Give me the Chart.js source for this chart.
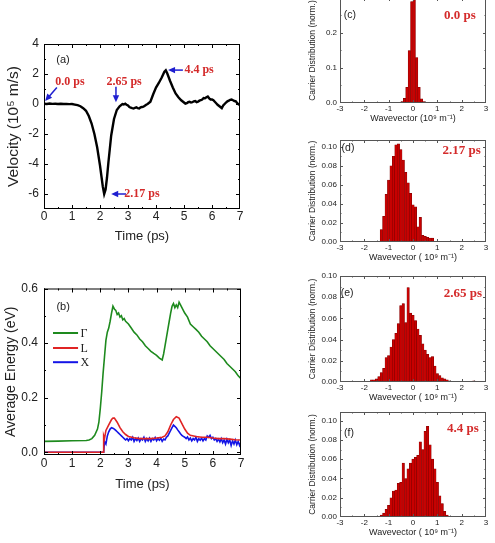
<!DOCTYPE html>
<html lang="en">
<head>
<meta charset="UTF-8">
<title>Drift velocity, energy and carrier distribution</title>
<script src="https://cdn.jsdelivr.net/npm/chart.js@4/dist/chart.umd.min.js"></script>
<style>
  html, body { margin: 0; padding: 0; background: #fff; }
  body { width: 495px; height: 543px; position: relative; overflow: hidden; }
  canvas { position: absolute; }
</style>
</head>
<body>
<canvas id="velo" width="260" height="214" style="left:0;top:30px"></canvas>
<canvas id="energy" width="260" height="212" style="left:0;top:280px"></canvas>
<canvas id="histC" width="195" height="126" style="left:300px;top:-2px"></canvas>
<canvas id="histD" width="195" height="129" style="left:300px;top:134px"></canvas>
<canvas id="histE" width="195" height="133" style="left:300px;top:270px"></canvas>
<canvas id="histF" width="195" height="132" style="left:300px;top:406px"></canvas>
<script>
// ---- data ----
// (a) drift velocity, [time ps, 10^5 m/s]
const velocity = [
  [0.0, 0.02], [0.1, 0.0], [0.2, 0.03], [0.3, 0.01], [0.4, 0.02], [0.5, 0.0], [0.6, 0.02],
  [0.7, 0.0], [0.8, 0.01], [0.9, -0.01], [1.0, 0.0], [1.1, -0.04], [1.2, -0.08], [1.3, -0.15],
  [1.4, -0.28], [1.5, -0.45], [1.6, -0.8], [1.7, -1.3], [1.8, -2.0], [1.9, -2.9], [2.0, -4.1],
  [2.05, -4.8], [2.1, -5.5], [2.15, -6.0], [2.2, -5.7], [2.25, -4.9], [2.3, -3.9], [2.35, -3.0],
  [2.4, -2.1], [2.5, -1.0], [2.6, -0.4], [2.7, -0.15], [2.8, 0.0], [2.85, -0.03], [2.9, 0.02],
  [2.95, -0.05], [3.0, -0.1], [3.05, -0.2], [3.1, -0.25], [3.15, -0.28], [3.2, -0.3], [3.25, -0.25],
  [3.3, -0.22], [3.35, -0.28], [3.4, -0.3], [3.45, -0.22], [3.5, -0.2], [3.55, -0.18], [3.6, -0.12],
  [3.65, -0.05], [3.7, 0.0], [3.8, 0.15], [3.9, 0.65], [4.0, 1.1], [4.1, 1.4], [4.2, 1.75],
  [4.3, 2.15], [4.35, 2.25], [4.4, 2.05], [4.5, 1.55], [4.6, 1.1], [4.7, 0.7], [4.8, 0.45],
  [4.9, 0.25], [5.0, 0.1], [5.05, 0.02], [5.1, 0.05], [5.15, 0.12], [5.2, 0.15], [5.25, 0.1],
  [5.3, 0.12], [5.35, 0.18], [5.4, 0.2], [5.45, 0.12], [5.5, 0.15], [5.55, 0.22], [5.6, 0.25],
  [5.65, 0.3], [5.7, 0.4], [5.75, 0.38], [5.8, 0.45], [5.85, 0.5], [5.9, 0.38], [5.95, 0.3],
  [6.0, 0.3], [6.05, 0.25], [6.1, 0.15], [6.15, 0.05], [6.2, -0.05], [6.3, -0.2], [6.35, -0.28],
  [6.4, -0.1], [6.45, 0.0], [6.5, 0.1], [6.55, 0.18], [6.6, 0.22], [6.65, 0.28], [6.7, 0.3],
  [6.75, 0.25], [6.8, 0.2], [6.85, 0.18], [6.9, 0.05], [6.95, -0.02], [7.0, -0.05]
];

// (b) average energy per valley, [time ps, eV]
const energyGamma = [
  [0.0, 0.040], [0.5, 0.041], [1.0, 0.042], [1.5, 0.043], [1.6, 0.045], [1.7, 0.05], [1.8, 0.062],
  [1.9, 0.085], [1.95, 0.11], [2.0, 0.16], [2.05, 0.22], [2.1, 0.29], [2.15, 0.35], [2.2, 0.41],
  [2.25, 0.44], [2.3, 0.455], [2.35, 0.48], [2.4, 0.51], [2.45, 0.535], [2.5, 0.525], [2.55, 0.52],
  [2.6, 0.505], [2.65, 0.51], [2.7, 0.495], [2.75, 0.5], [2.8, 0.485], [2.85, 0.49], [2.9, 0.48],
  [3.0, 0.47], [3.1, 0.455], [3.2, 0.44], [3.3, 0.43], [3.4, 0.415], [3.5, 0.405], [3.6, 0.39],
  [3.7, 0.38], [3.8, 0.37], [3.9, 0.362], [4.0, 0.355], [4.1, 0.345], [4.2, 0.338], [4.25, 0.36],
  [4.3, 0.39], [4.35, 0.42], [4.4, 0.45], [4.45, 0.48], [4.5, 0.51], [4.55, 0.535], [4.6, 0.545],
  [4.65, 0.53], [4.7, 0.54], [4.75, 0.53], [4.8, 0.55], [4.85, 0.54], [4.9, 0.53], [5.0, 0.51],
  [5.1, 0.495], [5.2, 0.47], [5.3, 0.46], [5.4, 0.45], [5.5, 0.44], [5.6, 0.425], [5.7, 0.415],
  [5.8, 0.405], [5.9, 0.39], [6.0, 0.38], [6.1, 0.37], [6.2, 0.36], [6.3, 0.35], [6.4, 0.34],
  [6.5, 0.325], [6.6, 0.315], [6.7, 0.305], [6.8, 0.295], [6.9, 0.28], [7.0, 0.27]
];
const energyL = [
  [0.0, 0.0], [2.1, 0.0], [2.12, 0.06], [2.15, 0.05], [2.2, 0.08], [2.3, 0.1], [2.4, 0.12],
  [2.45, 0.125], [2.5, 0.125], [2.6, 0.11], [2.7, 0.09], [2.8, 0.075], [2.9, 0.065], [3.0, 0.058],
  [3.2, 0.053], [3.4, 0.05], [3.6, 0.05], [3.8, 0.05], [4.0, 0.052], [4.2, 0.055], [4.3, 0.06],
  [4.4, 0.075], [4.5, 0.1], [4.6, 0.12], [4.7, 0.13], [4.8, 0.125], [4.9, 0.105], [5.0, 0.085],
  [5.1, 0.07], [5.2, 0.062], [5.4, 0.058], [5.6, 0.055], [5.8, 0.055], [6.0, 0.052], [6.2, 0.05],
  [6.4, 0.05], [6.6, 0.048], [6.8, 0.046], [7.0, 0.045]
];
const energyX = [
  [0.0, 0.0], [2.12, 0.0], [2.15, 0.04], [2.2, 0.03], [2.25, 0.06], [2.3, 0.075], [2.35, 0.085],
  [2.4, 0.09], [2.45, 0.088], [2.5, 0.085], [2.55, 0.08], [2.6, 0.075], [2.65, 0.07], [2.7, 0.065],
  [2.75, 0.06], [2.8, 0.055], [2.85, 0.05], [2.9, 0.045], [2.95, 0.05], [3.0, 0.042], [3.05, 0.05],
  [3.1, 0.045], [3.15, 0.055], [3.2, 0.04], [3.25, 0.05], [3.3, 0.043], [3.35, 0.052], [3.4, 0.04],
  [3.45, 0.05], [3.5, 0.045], [3.55, 0.055], [3.6, 0.04], [3.65, 0.05], [3.7, 0.042], [3.75, 0.052],
  [3.8, 0.04], [3.85, 0.05], [3.9, 0.045], [3.95, 0.054], [4.0, 0.042], [4.05, 0.05], [4.1, 0.044],
  [4.15, 0.052], [4.2, 0.04], [4.25, 0.048], [4.3, 0.045], [4.35, 0.055], [4.4, 0.06], [4.45, 0.07],
  [4.5, 0.08], [4.55, 0.09], [4.6, 0.1], [4.65, 0.095], [4.7, 0.09], [4.75, 0.082], [4.8, 0.075],
  [4.85, 0.068], [4.9, 0.062], [4.95, 0.058], [5.0, 0.055], [5.05, 0.05], [5.1, 0.056], [5.15, 0.045],
  [5.2, 0.052], [5.25, 0.042], [5.3, 0.05], [5.35, 0.045], [5.4, 0.055], [5.45, 0.04], [5.5, 0.05],
  [5.55, 0.044], [5.6, 0.052], [5.65, 0.042], [5.7, 0.05], [5.75, 0.045], [5.8, 0.06], [5.85, 0.055],
  [5.9, 0.062], [5.95, 0.05], [6.0, 0.055], [6.05, 0.045], [6.1, 0.05], [6.15, 0.04], [6.2, 0.048],
  [6.25, 0.038], [6.3, 0.05], [6.35, 0.035], [6.4, 0.045], [6.45, 0.03], [6.5, 0.048], [6.55, 0.035],
  [6.6, 0.045], [6.65, 0.025], [6.7, 0.042], [6.75, 0.03], [6.8, 0.045], [6.85, 0.028], [6.9, 0.04],
  [6.95, 0.025], [7.0, 0.038]
];
const valleyNames = ['\u0393', 'L', 'X'];

// (c)-(f) carrier distribution histograms: bin centres (10^9 m^-1) and heights
const binsC = [-0.45, -0.35, -0.25, -0.15, -0.05, 0.05, 0.15, 0.25, 0.35, 0.45];
const distC = [0.004, 0.013, 0.045, 0.15, 0.29, 0.297, 0.13, 0.045, 0.012, 0.004];

const binsD = [-1.3, -1.2, -1.1, -1.0, -0.9, -0.8, -0.7, -0.6, -0.5, -0.4, -0.3,
               -0.2, -0.1, 0.0, 0.1, 0.2, 0.3, 0.4, 0.5, 0.6, 0.7, 0.8];
const distD = [0.013, 0.027, 0.05, 0.065, 0.08, 0.09, 0.102, 0.103, 0.097, 0.086, 0.073,
               0.062, 0.051, 0.039, 0.037, 0.016, 0.026, 0.007, 0.006, 0.005, 0.004, 0.004];

const binsE = [-1.7, -1.6, -1.5, -1.4, -1.3, -1.2, -1.1, -1.0, -0.9, -0.8, -0.7, -0.6,
               -0.5, -0.4, -0.3, -0.2, -0.1, 0.0, 0.1, 0.2, 0.3, 0.4, 0.5, 0.6,
               0.7, 0.8, 0.9, 1.0, 1.1, 1.2, 1.3, 1.4, 1.5, 2.5];
const distE = [0.002, 0.002, 0.003, 0.005, 0.009, 0.013, 0.023, 0.025, 0.033, 0.040, 0.046, 0.055,
               0.072, 0.074, 0.056, 0.089, 0.065, 0.063, 0.058, 0.050, 0.044, 0.036, 0.030, 0.026,
               0.023, 0.024, 0.015, 0.008, 0.006, 0.004, 0.003, 0.002, 0.001, 0.001];

const binsF = [-1.3, -1.2, -1.1, -1.0, -0.9, -0.8, -0.7, -0.6, -0.5, -0.4, -0.3, -0.2, -0.1, 0.0,
               0.1, 0.2, 0.3, 0.4, 0.5, 0.6, 0.7, 0.8, 0.9, 1.0, 1.1, 1.2, 1.3, 1.4];
const distF = [0.002, 0.004, 0.008, 0.012, 0.020, 0.027, 0.028, 0.035, 0.036, 0.056, 0.040, 0.050, 0.056, 0.060,
               0.062, 0.064, 0.078, 0.070, 0.089, 0.094, 0.075, 0.060, 0.050, 0.036, 0.022, 0.014, 0.006, 0.002];

// tick values
const timeTicks = [0, 1, 2, 3, 4, 5, 6, 7];
const veloTicks = [-6, -4, -2, 0, 2, 4];
const energyTicks = [0, 0.2, 0.4, 0.6];
const waveTicks = [-3, -2, -1, 0, 1, 2, 3];
const distTicksC = [0, 0.1, 0.2];
const distTicks = [0, 0.02, 0.04, 0.06, 0.08, 0.10];

// ---- drawing ----
const sans = "'Liberation Sans', Arial, sans-serif";
const serif = "'Liberation Serif', 'Times New Roman', serif";
const red = '#d42b2b';
const arrowBlue = '#1f1fd0';
Chart.defaults.font.family = sans;
Chart.defaults.color = '#222';

const toPoints = arr => arr.map(p => ({ x: p[0], y: p[1] }));
const toBars = (bins, vals) => bins.map((k, i) => ({ x: k, y: vals[i] }));

function axis(o) {
  return {
    type: 'linear', min: o.min, max: o.max, offset: false,
    grid: { display: false, drawTicks: false },
    border: { display: false },
    ticks: { padding: o.pad, font: { size: o.size }, color: '#222', autoSkip: false, maxRotation: 0, callback: o.fmt },
    title: { display: true, text: o.title, font: { size: o.titleSize }, color: '#222', padding: { top: o.titlePad, bottom: 0 } },
    afterBuildTicks: s => { s.ticks = o.ticks.map(v => ({ value: v })); },
    afterFit: s => {
      if (s.isHorizontal()) s.height = o.room; else s.width = o.room;
      s.paddingTop = s.paddingBottom = s.paddingLeft = s.paddingRight = 0;
    }
  };
}

// closed frame with inward major/minor ticks on all four sides
const frame = {
  id: 'frame',
  afterDatasetsDraw(chart, args, o) {
    const { ctx, chartArea: a } = chart;
    const sx = chart.scales.x, sy = chart.scales.y;
    const seg = (x1, y1, x2, y2) => { ctx.beginPath(); ctx.moveTo(x1, y1); ctx.lineTo(x2, y2); ctx.stroke(); };
    ctx.save();
    ctx.strokeStyle = o.color;
    ctx.lineWidth = 1;
    ctx.strokeRect(a.left + 0.5, a.top + 0.5, a.right - a.left - 1, a.bottom - a.top - 1);
    const markX = (v, len) => {
      const p = Math.round(sx.getPixelForValue(v)) + 0.5;
      if (p < a.left || p > a.right) return;
      seg(p, a.bottom, p, a.bottom - len); seg(p, a.top, p, a.top + len);
    };
    const markY = (v, len) => {
      const p = Math.round(sy.getPixelForValue(v)) + 0.5;
      if (p < a.top || p > a.bottom) return;
      seg(a.left, p, a.left + len, p); seg(a.right, p, a.right - len, p);
    };
    for (let v = Math.ceil(sx.min / o.xMinor - 1e-6) * o.xMinor; v <= sx.max + 1e-9; v += o.xMinor) markX(v, o.minor);
    for (let v = Math.ceil(sy.min / o.yMinor - 1e-6) * o.yMinor; v <= sy.max + 1e-9; v += o.yMinor) markY(v, o.minor);
    sx.ticks.forEach(t => markX(t.value, o.major));
    sy.ticks.forEach(t => markY(t.value, o.major));
    ctx.restore();
  }
};

// text labels, arrows and an inset legend placed in data coordinates
const notes = {
  id: 'notes',
  afterDraw(chart, args, o) {
    const { ctx } = chart;
    const sx = chart.scales.x, sy = chart.scales.y;
    ctx.save();
    (o.arrows || []).forEach(ar => {
      const x1 = sx.getPixelForValue(ar.from[0]), y1 = sy.getPixelForValue(ar.from[1]);
      const x2 = sx.getPixelForValue(ar.to[0]), y2 = sy.getPixelForValue(ar.to[1]);
      const ang = Math.atan2(y2 - y1, x2 - x1);
      ctx.strokeStyle = arrowBlue; ctx.fillStyle = arrowBlue; ctx.lineWidth = 1.5;
      ctx.beginPath(); ctx.moveTo(x1, y1);
      ctx.lineTo(x2 - 5 * Math.cos(ang), y2 - 5 * Math.sin(ang)); ctx.stroke();
      ctx.beginPath(); ctx.moveTo(x2, y2);
      ctx.lineTo(x2 - 7 * Math.cos(ang) + 3.2 * Math.sin(ang), y2 - 7 * Math.sin(ang) - 3.2 * Math.cos(ang));
      ctx.lineTo(x2 - 7 * Math.cos(ang) - 3.2 * Math.sin(ang), y2 - 7 * Math.sin(ang) + 3.2 * Math.cos(ang));
      ctx.closePath(); ctx.fill();
    });
    (o.texts || []).forEach(n => {
      ctx.font = n.font; ctx.fillStyle = n.color;
      ctx.textAlign = 'center'; ctx.textBaseline = 'middle';
      ctx.fillText(n.text, sx.getPixelForValue(n.x), sy.getPixelForValue(n.y));
    });
    if (o.legend) {
      const L = o.legend;
      chart.data.datasets.forEach((ds, i) => {
        const yy = sy.getPixelForValue(L.ys[i]);
        ctx.strokeStyle = ds.borderColor; ctx.lineWidth = 2;
        ctx.beginPath(); ctx.moveTo(sx.getPixelForValue(L.x1), yy); ctx.lineTo(sx.getPixelForValue(L.x2), yy); ctx.stroke();
        ctx.font = '12px ' + serif; ctx.fillStyle = '#222';
        ctx.textAlign = 'left'; ctx.textBaseline = 'middle';
        ctx.fillText(ds.label, sx.getPixelForValue(L.tx), yy + 1);
      });
    }
    ctx.restore();
  }
};

const psFont = 'bold 12px ' + serif;
const tagFont = '11px ' + sans;

new Chart('velo', {
  type: 'line',
  data: { datasets: [{ data: toPoints(velocity), borderColor: '#000', borderWidth: 2.4, pointRadius: 0, tension: 0 }] },
  options: {
    responsive: false, animation: false,
    layout: { padding: { top: 14, right: 20, left: 0, bottom: 0 } },
    plugins: {
      legend: { display: false }, tooltip: { enabled: false },
      frame: { color: '#000', xMinor: 0.5, yMinor: 1, major: 4, minor: 2 },
      notes: {
        texts: [
          { text: '(a)', x: 0.68, y: 2.93, font: tagFont, color: '#222' },
          { text: '0.0 ps', x: 0.93, y: 1.45, font: psFont, color: red },
          { text: '2.65 ps', x: 2.86, y: 1.45, font: psFont, color: red },
          { text: '4.4 ps', x: 5.54, y: 2.26, font: psFont, color: red },
          { text: '2.17 ps', x: 3.5, y: -6.0, font: psFont, color: red }
        ],
        arrows: [
          { from: [0.46, 1.1], to: [0.04, 0.2] },
          { from: [2.57, 1.15], to: [2.57, 0.12] },
          { from: [4.96, 2.26], to: [4.43, 2.26] },
          { from: [2.93, -6.0], to: [2.4, -6.0] }
        ]
      }
    },
    scales: {
      x: axis({ min: 0, max: 7, ticks: timeTicks, fmt: v => String(v), pad: 0, size: 12,
                title: 'Time (ps)', titleSize: 13, titlePad: 2, room: 35 }),
      y: axis({ min: -7, max: 4, ticks: veloTicks, fmt: v => String(v), pad: 5, size: 12,
                title: 'Velocity (10\u2075 m/s)', titleSize: 15.5, titlePad: 4, room: 44 })
    }
  },
  plugins: [frame, notes]
});

new Chart('energy', {
  type: 'line',
  data: {
    datasets: [
      { label: valleyNames[0], data: toPoints(energyGamma), borderColor: '#1e8a1e', borderWidth: 1.6, pointRadius: 0, tension: 0 },
      { label: valleyNames[1], data: toPoints(energyL), borderColor: '#e02424', borderWidth: 1.6, pointRadius: 0, tension: 0 },
      { label: valleyNames[2], data: toPoints(energyX), borderColor: '#1414e6', borderWidth: 1.6, pointRadius: 0, tension: 0 }
    ]
  },
  options: {
    responsive: false, animation: false,
    layout: { padding: { top: 8.5, right: 19, left: 0, bottom: 0 } },
    plugins: {
      legend: { display: false }, tooltip: { enabled: false },
      frame: { color: '#000', xMinor: 0.5, yMinor: 0.1, major: 4, minor: 2 },
      notes: {
        texts: [{ text: '(b)', x: 0.68, y: 0.532, font: tagFont, color: '#222' }],
        legend: { x1: 0.32, x2: 1.21, tx: 1.3, ys: [0.437, 0.382, 0.33] }
      }
    },
    scales: {
      x: axis({ min: 0, max: 7, ticks: timeTicks, fmt: v => String(v), pad: 1, size: 12,
                title: 'Time (ps)', titleSize: 13, titlePad: 0, room: 37 }),
      y: axis({ min: -0.01, max: 0.6, ticks: energyTicks, fmt: v => v.toFixed(1), pad: 6, size: 12,
                title: 'Average Energy (eV)', titleSize: 14, titlePad: 3, room: 44 })
    }
  },
  plugins: [frame, notes]
});

function histogram(id, bins, vals, o) {
  return new Chart(id, {
    type: 'bar',
    data: { datasets: [{ data: toBars(bins, vals), backgroundColor: '#c80000', borderColor: '#7a0000',
                         borderWidth: 0.5, barPercentage: 1, categoryPercentage: 1 }] },
    options: {
      responsive: false, animation: false,
      layout: { padding: { top: o.padTop, right: 9, left: 0, bottom: 0 } },
      plugins: {
        legend: { display: false }, tooltip: { enabled: false },
        frame: { color: '#555', xMinor: 0.5, yMinor: o.yMinor, major: 3, minor: 1.5 },
        notes: {
          texts: [
            { text: o.tag, x: o.tagAt[0], y: o.tagAt[1], font: '10.5px ' + sans, color: '#222' },
            { text: o.time, x: o.timeAt[0], y: o.timeAt[1], font: 'bold 13px ' + serif, color: red }
          ]
        }
      },
      scales: {
        x: axis({ min: -3, max: 3, ticks: waveTicks, fmt: v => String(v), pad: 1.2, size: 8,
                  title: o.xTitle, titleSize: 9, titlePad: 1, room: 21 }),
        y: axis({ min: 0, max: o.max, ticks: o.ticks, fmt: v => v.toFixed(o.digits), pad: 3, size: 8,
                  title: 'Carrier Distribution (norm.)', titleSize: 8.5, titlePad: 8, room: 40 })
      }
    },
    plugins: [frame, notes]
  });
}

histogram('histC', binsC, distC, { padTop: 0, max: 0.3, ticks: distTicksC, digits: 1, yMinor: 0.05,
  tag: '(c)', tagAt: [-2.59, 0.251], time: '0.0 ps', timeAt: [1.93, 0.251],
  xTitle: 'Wavevector (10\u2079 m\u207B\u00B9)' });
histogram('histD', binsD, distD, { padTop: 6, max: 0.107, ticks: distTicks, digits: 2, yMinor: 0.01,
  tag: '(d)', tagAt: [-2.67, 0.099], time: '2.17 ps', timeAt: [2.0, 0.096],
  xTitle: 'Wavevector ( 10\u2079 m\u207B\u00B9)' });
histogram('histE', binsE, distE, { padTop: 6, max: 0.10, ticks: distTicks, digits: 2, yMinor: 0.01,
  tag: '(e)', tagAt: [-2.71, 0.084], time: '2.65 ps', timeAt: [2.05, 0.083],
  xTitle: 'Wavevector ( 10\u2079 m\u207B\u00B9)' });
histogram('histF', binsF, distF, { padTop: 6, max: 0.109, ticks: distTicks, digits: 2, yMinor: 0.01,
  tag: '(f)', tagAt: [-2.63, 0.0875], time: '4.4 ps', timeAt: [2.05, 0.0917],
  xTitle: 'Wavevector ( 10\u2079 m\u207B\u00B9)' });
</script>
</body>
</html>
